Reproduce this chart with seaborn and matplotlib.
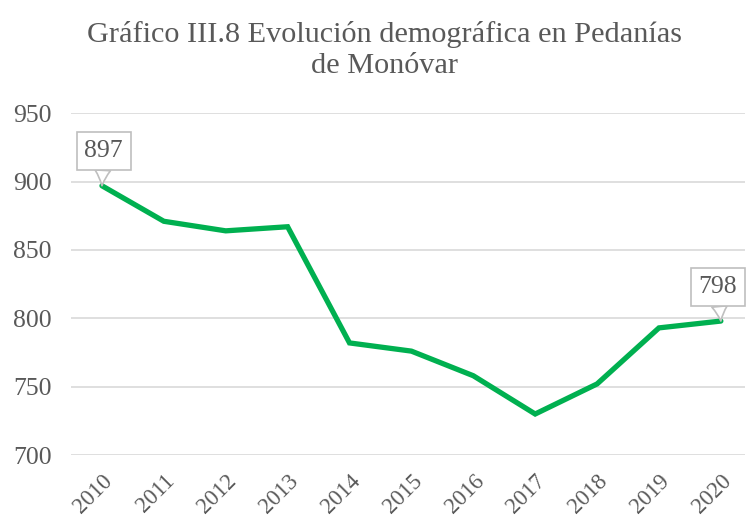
import matplotlib
matplotlib.use("Agg")
import matplotlib.pyplot as plt
import seaborn as sns
import pandas as pd

years = ["2010", "2011", "2012", "2013", "2014", "2015", "2016", "2017", "2018", "2019", "2020"]
population = [897, 871, 864, 867, 782, 776, 758, 730, 752, 793, 798]
y_ticks = [700, 750, 800, 850, 900, 950]
title = "Gráfico III.8 Evolución demográfica en Pedanías\nde Monóvar"

df = pd.DataFrame({"year": years, "pop": population})

sns.set_theme(style="white")
plt.rcParams["font.family"] = ["Liberation Serif", "DejaVu Serif"]
txt = "#595959"

fig = plt.figure(figsize=(7.47, 5.23), dpi=100)
ax = fig.add_axes([71 / 747, 1 - 455 / 523, (745 - 71) / 747, (455 - 113.3) / 523])

x = list(range(len(years)))
sns.lineplot(x=x, y=df["pop"], ax=ax, color="#00B050", linewidth=3.8, solid_joinstyle="miter")

ax.set_xlim(-0.5, 10.39)
ax.set_ylim(700, 950)
ax.set_yticks(y_ticks)
ax.set_yticklabels([str(v) for v in y_ticks], fontsize=18.5, color=txt)
ax.set_xticks(x)
ax.set_xticklabels(years, rotation=45, ha="right", rotation_mode="anchor", fontsize=16.5, color=txt)
ax.tick_params(axis="y", length=0, pad=14)
ax.tick_params(axis="x", length=0, pad=11)
ax.grid(axis="y", color="#d9d9d9", linewidth=1.2)
ax.grid(axis="x", visible=False)
for s in ax.spines.values():
    s.set_visible(False)
ax.set_xlabel("")
ax.set_ylabel("")

fig.text(0.515, 1 - 50 / 523, title, ha="center", va="center", fontsize=21.8,
         color=txt, linespacing=1.25)

for i, dx, dy in [(0, 0.03, 25.4), (10, -0.05, 24.8)]:
    ax.annotate(str(population[i]), xy=(i, population[i]), xytext=(x[i] + dx, population[i] + dy),
                textcoords="data", fontsize=18.5, color=txt, ha="center", va="center",
                bbox=dict(boxstyle="square,pad=0.3", fc="white", ec="#bfbfbf", lw=1.2),
                arrowprops=dict(arrowstyle="wedge,tail_width=0.6,shrink_factor=0.4",
                                fc="white", ec="#bfbfbf", lw=1.2, shrinkA=0, shrinkB=0))

fig.savefig("out.png", dpi=100)
